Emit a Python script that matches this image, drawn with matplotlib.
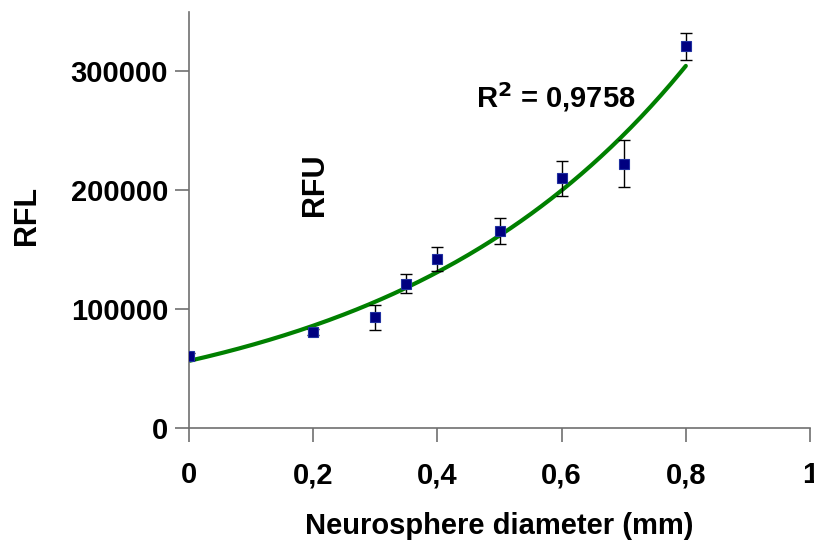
import matplotlib
matplotlib.use("Agg")
import matplotlib.pyplot as plt
import numpy as np

# values
diameter_mm = [0.0, 0.2, 0.3, 0.35, 0.4, 0.5, 0.6, 0.7, 0.8]
rfu_mean = [60500, 80500, 93000, 121500, 142000, 166000, 210000, 222500, 321000]
rfu_err = [3000, 2500, 10500, 8000, 10000, 11000, 14700, 20000, 11000]
x_ticks = [0, 0.2, 0.4, 0.6, 0.8, 1.0]
x_ticklabels = ["0", "0,2", "0,4", "0,6", "0,8", "1"]
y_ticks = [0, 100000, 200000, 300000]
r2_text = "R$^2$ = 0,9758"

plt.rcParams["font.family"] = ["Liberation Sans", "DejaVu Sans"]
plt.rcParams["font.weight"] = "bold"
plt.rcParams["mathtext.default"] = "bf"

fig = plt.figure(figsize=(8.14, 5.44), dpi=100)
ax = fig.add_axes([0.2322, 0.2132, 0.7629, 0.7648])

# exponential trendline (least squares on ln y, like the spreadsheet does)
b, ln_a = np.polyfit(diameter_mm, np.log(rfu_mean), 1)
xs = np.linspace(0, max(diameter_mm), 200)
ax.plot(xs, np.exp(ln_a) * np.exp(b * xs), color="#008000", lw=3, zorder=2,
        solid_capstyle="round")

ax.errorbar(diameter_mm, rfu_mean, yerr=rfu_err, fmt="none", ecolor="black",
            elinewidth=1, capsize=4, capthick=1, zorder=3)
ax.plot(diameter_mm, rfu_mean, ls="none", marker="s", ms=6.5, mfc="#000080",
        mec="#2030a0", mew=0.8, zorder=4)

ax.set_xlim(0, 1)
ax.set_ylim(0, 350000)
ax.set_xticks(x_ticks)
ax.set_xticklabels(x_ticklabels)
ax.set_yticks(y_ticks)
ax.set_yticklabels([str(v) for v in y_ticks])

for s in ["top", "right"]:
    ax.spines[s].set_visible(False)
for s in ["left", "bottom"]:
    ax.spines[s].set_color("#707070")
    ax.spines[s].set_linewidth(1.2)
ax.tick_params(axis="both", direction="out", length=10, width=1.2,
               color="#707070", labelsize=21)
ax.tick_params(axis="x", pad=14)
ax.tick_params(axis="y", pad=5)
for lab in ax.get_xticklabels() + ax.get_yticklabels():
    lab.set_fontweight("bold")

ax.set_xlabel("Neurosphere diameter (mm)", fontsize=21, fontweight="bold",
              labelpad=16)
fig.text(27 / 814, 1 - 215 / 544, "RFL", rotation=90, fontsize=22,
         fontweight="bold", ha="center", va="center")
fig.text(315 / 814, 1 - 185 / 544, "RFU", rotation=90, fontsize=22,
         fontweight="bold", ha="center", va="center")
fig.text(476 / 814, 1 - 97 / 544, r2_text, fontsize=21, fontweight="bold",
         ha="left", va="center")

fig.savefig("out.png", dpi=100)
